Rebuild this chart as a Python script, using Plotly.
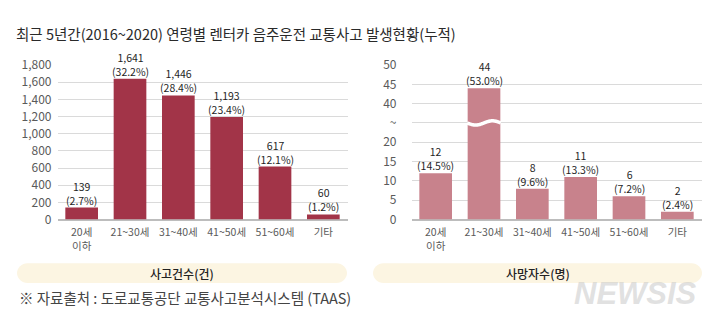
import math
import plotly.graph_objects as go

W, H = 720, 328
FONT = "Noto Sans CJK KR"

title_text = "최근 5년간(2016~2020) 연령별 렌터카 음주운전 교통사고 발생현황(누적)"
categories = ["20세<br>이하", "21~30세", "31~40세", "41~50세", "51~60세", "기타"]
accidents = [139, 1641, 1446, 1193, 617, 60]
accident_pct = ["2.7", "32.2", "28.4", "23.4", "12.1", "1.2"]
deaths = [12, 44, 8, 11, 6, 2]
death_pct = ["14.5", "53.0", "9.6", "13.3", "7.2", "2.4"]
left_tickvals = [0, 200, 400, 600, 800, 1000, 1200, 1400, 1600, 1800]
right_tick_values = [0, 5, 10, 15, 20, None, 40, 45, 50]
right_tick_labels = ["0", "5", "10", "15", "20", "~", "40", "45", "50"]
panel_titles = ["사고건수(건)", "사망자수(명)"]
source_text = "※ 자료출처 : 도로교통공단 교통사고분석시스템 (TAAS)"
watermark = "NEWSIS"

# broken axis: values up to 20 plotted as is; values from 40 shifted down
BREAK_LOW, BREAK_HIGH, BREAK_DISPLAY = 20, 40, 25
SHIFT = BREAK_HIGH - (BREAK_LOW + 2 * (BREAK_DISPLAY - BREAK_LOW))


def disp(v):
    return v if v <= BREAK_LOW else v - SHIFT


LEFT_COLOR = "#A23448"
RIGHT_COLOR = "#C8828C"
GRID = "#dadada"
BASE = "#bdbdbd"
TICK_COLOR = "#5a5a5a"
TEXT_COLOR = "#1f1f1f"

fx = lambda px: px / W
fy = lambda py: 1 - py / H

x_idx = list(range(len(categories)))
fig = go.Figure()
fig.add_trace(go.Bar(x=x_idx, y=accidents, marker=dict(color=LEFT_COLOR, line=dict(width=0)),
                     xaxis="x", yaxis="y", hoverinfo="skip"))
fig.add_trace(go.Bar(x=x_idx, y=[disp(v) for v in deaths], marker=dict(color=RIGHT_COLOR, line=dict(width=0)),
                     xaxis="x2", yaxis="y2", hoverinfo="skip"))

# wavy break mark on the bars that cross the axis break
BAR_GAP = 0.324
half = (1 - BAR_GAP) / 2 + 0.01
for i, v in enumerate(deaths):
    if v > BREAK_HIGH:
        n = 40
        xs = [i - half + 2 * half * k / n for k in range(n + 1)]
        ys = [BREAK_DISPLAY - 0.55 * math.sin(2 * math.pi * k / n) for k in range(n + 1)]
        fig.add_trace(go.Scatter(x=xs, y=ys, mode="lines", line=dict(color="white", width=3.5, shape="spline"),
                                 xaxis="x2", yaxis="y2", hoverinfo="skip"))

LBL = dict(size=10.5, color=TEXT_COLOR, family=FONT)
annotations = []
for i, (v, p) in enumerate(zip(accidents, accident_pct)):
    annotations.append(dict(x=i, y=v, xref="x", yref="y", text=f"{v:,}<br>({p}%)", showarrow=False,
                            yanchor="bottom", yshift=-2, font=LBL))
for i, (v, p) in enumerate(zip(deaths, death_pct)):
    annotations.append(dict(x=i, y=disp(v), xref="x2", yref="y2", text=f"{v:,}<br>({p}%)", showarrow=False,
                            yanchor="bottom", yshift=-2, font=LBL))

# title
annotations.append(dict(x=fx(14), y=fy(25), xref="paper", yref="paper", xanchor="left", yanchor="middle",
                        text=title_text, showarrow=False,
                        font=dict(size=14.5, color="#2a2a2a", family=FONT)))
# panel pills
pills = [(17, 347), (373, 702)]
shapes = []
PY0, PY1 = 267, 288
r = (PY1 - PY0) / 2
for (x0, x1), t in zip(pills, panel_titles):
    path = (f"M {fx(x0 + r)} {fy(PY0)} L {fx(x1 - r)} {fy(PY0)} "
            f"C {fx(x1 - r + r * 0.55)} {fy(PY0)} {fx(x1)} {fy(PY0 + r - r * 0.55)} {fx(x1)} {fy(PY0 + r)} "
            f"C {fx(x1)} {fy(PY0 + r + r * 0.55)} {fx(x1 - r + r * 0.55)} {fy(PY1)} {fx(x1 - r)} {fy(PY1)} "
            f"L {fx(x0 + r)} {fy(PY1)} "
            f"C {fx(x0 + r - r * 0.55)} {fy(PY1)} {fx(x0)} {fy(PY0 + r + r * 0.55)} {fx(x0)} {fy(PY0 + r)} "
            f"C {fx(x0)} {fy(PY0 + r - r * 0.55)} {fx(x0 + r - r * 0.55)} {fy(PY0)} {fx(x0 + r)} {fy(PY0)} Z")
    shapes.append(dict(type="path", xref="paper", yref="paper", path=path, fillcolor="#FCF5E2",
                       line=dict(width=0), layer="below"))
    annotations.append(dict(x=fx((x0 + x1) / 2), y=fy((PY0 + PY1) / 2), xref="paper", yref="paper",
                            text=t, showarrow=False, xanchor="center", yanchor="middle",
                            font=dict(size=12, color="#222222", family=FONT, weight=500)))
# watermark
annotations.append(dict(x=fx(699), y=fy(299), xref="paper", yref="paper", xanchor="right", yanchor="middle",
                        text=f"<b><i>{watermark}</i></b>", showarrow=False,
                        font=dict(size=31, color="rgba(200,200,200,0.55)", family="Liberation Sans")))
# source
annotations.append(dict(x=fx(17), y=fy(303), xref="paper", yref="paper", xanchor="left", yanchor="middle",
                        text=source_text, showarrow=False, font=dict(size=14.5, color="#444444", family=FONT)))

ydom = [fy(221), fy(58)]
common_x = dict(range=[-0.5, len(categories) - 0.5], tickvals=x_idx, ticktext=categories, showgrid=False,
                zeroline=False, showline=False, ticks="", ticklabelstandoff=5,
                tickfont=dict(size=10.5, color=TICK_COLOR, family=FONT), fixedrange=True)
fig.update_layout(
    width=W, height=H, margin=dict(l=0, r=0, t=0, b=0),
    paper_bgcolor="white", plot_bgcolor="white", showlegend=False, bargap=BAR_GAP,
    xaxis=dict(domain=[fx(57.5), fx(347.5)], anchor="y", **common_x),
    xaxis2=dict(domain=[fx(411.5), fx(701.5)], anchor="y2", **common_x),
    yaxis=dict(domain=ydom, anchor="x", range=[0, 1800], tickvals=left_tickvals, tickformat=",",
               showgrid=True, gridcolor=GRID, gridwidth=1, zeroline=True, zerolinecolor=BASE, zerolinewidth=1.5,
               showline=False, ticks="", ticklabelstandoff=5,
               tickfont=dict(size=12, color=TICK_COLOR, family=FONT), fixedrange=True),
    yaxis2=dict(domain=ydom, anchor="x2", range=[0, disp(50)],
                tickvals=[disp(v) if v is not None else BREAK_DISPLAY for v in right_tick_values],
                ticktext=right_tick_labels,
                showgrid=True, gridcolor=GRID, gridwidth=1, zeroline=True, zerolinecolor=BASE, zerolinewidth=1.5,
                showline=False, ticks="", ticklabelstandoff=14,
                tickfont=dict(size=12, color=TICK_COLOR, family=FONT), fixedrange=True),
    annotations=annotations, shapes=shapes,
)
fig.write_html("out.html")
